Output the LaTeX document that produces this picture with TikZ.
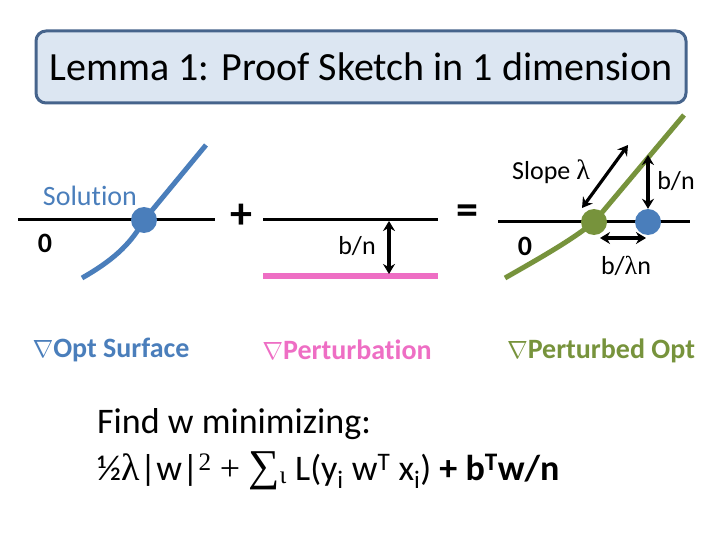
\documentclass[tikz,border=0pt]{standalone}
\usepackage{fontspec}
\setmainfont{Carlito}[Ligatures=NoCommon]
\newfontfamily\symf{Liberation Serif}
\usetikzlibrary{arrows.meta}
\definecolor{oblue}{RGB}{74,126,187}
\definecolor{opink}{RGB}{238,110,196}
\definecolor{ogreen}{RGB}{119,147,60}
\definecolor{tfill}{RGB}{220,230,242}
\definecolor{tborder}{RGB}{70,100,140}
\begin{document}
\begin{tikzpicture}[x=1pt,y=-1pt,
  axis/.style={line width=3pt,black},
  curveb/.style={line width=5pt,oblue},
  curveg/.style={line width=5pt,ogreen},
  pinkline/.style={line width=6pt,opink},
  bdot/.style={circle,fill=oblue,minimum size=26pt,inner sep=0pt},
  gdot/.style={circle,fill=ogreen,minimum size=26pt,inner sep=0pt},
  dbl/.style={line width=3.2pt,{Stealth[length=10pt,width=12pt]}-{Stealth[length=10pt,width=12pt]}},
  lbl/.style={font=\fontsize{26}{30}\selectfont,inner sep=0pt},
  zero/.style={font=\fontsize{28}{32}\selectfont\bfseries,inner sep=0pt},
  caption/.style={font=\fontsize{28}{32}\selectfont\bfseries,inner sep=0pt},
  op/.style={font=\fontsize{44}{48}\selectfont\bfseries,inner sep=0pt},
  formula/.style={anchor=base west,inner sep=0pt,font=\fontsize{36}{42}\selectfont}]
\useasboundingbox (0,0) rectangle (720,540);
% title
\node[draw=tborder,fill=tfill,line width=3pt,rounded corners=10pt,
  minimum width=650pt,minimum height=72pt,inner sep=0pt,
  font=\fontsize{40}{46}\selectfont] (title) at (361,67) {Lemma 1: Proof Sketch in 1 dimension};
% left panel
\coordinate (la) at (18,220);
\coordinate (lb) at (215,220);
\draw[axis] (la) -- (lb);
\coordinate (s) at (144,220);
\coordinate (bl) at (82,278);
\coordinate (bt) at (206,145);
\draw[curveb] (bl) .. controls (110,262) and (130,246) .. (s) -- (bt);
\node[bdot] (sd) at (s) {};
\node[font=\fontsize{28}{32}\selectfont,text=oblue,inner sep=0pt] (sol) at (90,196) {Solution};
\node[zero] (z1) at (45,243) {0};
\node[caption,text=oblue] (c1) at (111,350) {$\nabla$Opt Surface};
% plus
\node[op] (plus) at (241,216) {+};
% middle panel
\coordinate (ma) at (263,220);
\coordinate (mb) at (438,220);
\draw[axis] (ma) -- (mb);
\coordinate (pa) at (263,276);
\coordinate (pb) at (438,276);
\draw[pinkline] (pa) -- (pb);
\coordinate (mt) at (389,221);
\coordinate (mbo) at (389,274);
\draw[dbl] (mt) -- (mbo);
\node[lbl] (bn1) at (357,246) {b/n};
\node[caption,text=opink] (c2) at (347,350) {$\nabla$Perturbation};
% equals
\node[op] (eq) at (467,215) {=};
% right panel
\coordinate (ra) at (498,222);
\coordinate (rb) at (690,222);
\draw[axis] (ra) -- (rb);
\coordinate (g) at (594,222);
\coordinate (gl) at (505,278);
\coordinate (gt) at (684,115);
\draw[curveg] (gl) .. controls (540,258) and (572,240) .. (g) -- (gt);
\node[gdot] (gd) at (g) {};
\node[bdot] (bd) at (648,222) {};
\coordinate (sa) at (582,208);
\coordinate (sb) at (628,145);
\draw[dbl] (sa) -- (sb);
\node[lbl] (slope) at (551,172) {Slope {\symf\fontsize{28}{30}\selectfont λ}};
\coordinate (va) at (648,155);
\draw[dbl] (va) -- (bd.north);
\node[lbl] (bn2) at (676,181) {b/n};
\coordinate (ha) at (600,238);
\coordinate (hb) at (646,238);
\draw[dbl] (ha) -- (hb);
\node[lbl] (bln) at (626,266) {b/{\symf λ}n};
\node[zero] (z2) at (525,246) {0};
\node[caption,text=ogreen] (c3) at (601,351) {$\nabla$Perturbed Opt};
% formula
\node[formula] (f1) at (97,433) {Find w minimizing:};
\node[formula] (f2) at (97,480)
  {½{\symf\fontsize{38}{42}\selectfont λ}|w|\textsuperscript{\symf 2} {\symf +} {\symf\fontsize{44}{42}\selectfont ∑}\textsubscript{\symf ι} L(y\textsubscript{i} w\textsuperscript{T} x\textsubscript{i}) \textbf{+ b\textsuperscript{T}w/n}};
\end{tikzpicture}
\end{document}
